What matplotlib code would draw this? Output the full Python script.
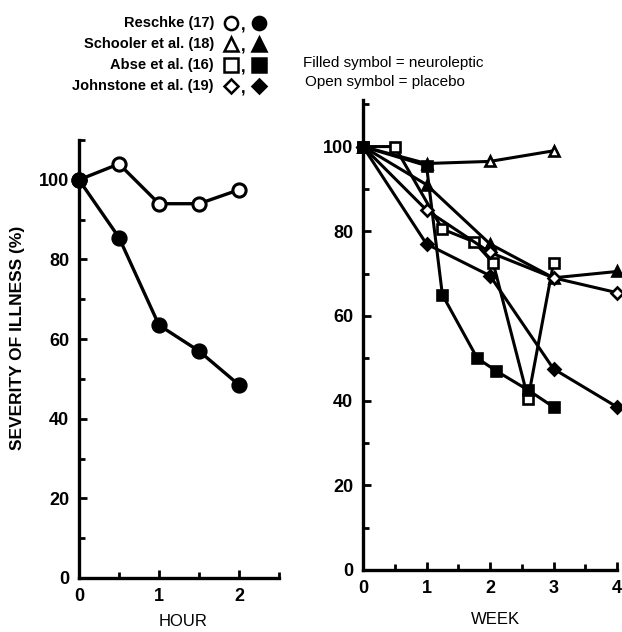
import matplotlib
matplotlib.use("Agg")
import matplotlib.pyplot as plt
from matplotlib.ticker import MultipleLocator

plt.rcParams['font.family'] = ['Liberation Sans', 'DejaVu Sans']

# ---- Data: left panel (hours) ----
reschke_hours = [0, 0.5, 1, 1.5, 2]
reschke_placebo = [100, 104, 94, 94, 97.5]
reschke_neuro = [100, 85.5, 63.5, 57, 48.5]

# ---- Data: right panel (weeks) ----
schooler_placebo_wk = [0, 1, 2, 3]
schooler_placebo = [100, 96, 96.5, 99]
schooler_neuro_wk = [0, 1, 2, 3, 4]
schooler_neuro = [100, 91, 77, 69, 70.5]
abse_placebo_wk = [0, 0.5, 1.25, 1.75, 2.05, 2.6, 3]
abse_placebo = [100, 100, 80.5, 77.5, 72.5, 40.5, 72.5]
abse_neuro_wk = [0, 1, 1.25, 1.8, 2.1, 2.6, 3]
abse_neuro = [100, 95.5, 65, 50, 47, 42.5, 38.5]
johnstone_placebo_wk = [0, 1, 2, 3, 4]
johnstone_placebo = [100, 85, 75, 69, 65.5]
johnstone_neuro_wk = [0, 1, 2, 3, 4]
johnstone_neuro = [100, 77, 69.5, 47.5, 38.5]

legend_labels = ["Reschke (17)", "Schooler et al. (18)", "Abse et al. (16)", "Johnstone et al. (19)"]
legend_markers = ["o", "^", "s", "D"]

W, H = 622, 632
fig = plt.figure(figsize=(W/100, H/100), dpi=100)

def style_axes(ax, xmax, ymax):
    for s in ['top', 'right']:
        ax.spines[s].set_visible(False)
    for s in ['left', 'bottom']:
        ax.spines[s].set_linewidth(2.4)
    ax.set_ylim(0, ymax)
    ax.set_xlim(0, xmax)
    ax.yaxis.set_major_locator(MultipleLocator(20))
    ax.yaxis.set_minor_locator(MultipleLocator(10))
    ax.xaxis.set_major_locator(MultipleLocator(1))
    ax.xaxis.set_minor_locator(MultipleLocator(0.5))
    ax.tick_params(which='both', direction='in', width=2, color='black')
    ax.tick_params(which='major', length=6, labelsize=13, pad=7)
    ax.tick_params(which='minor', length=4)
    for lab in ax.get_xticklabels() + ax.get_yticklabels():
        lab.set_fontweight('bold')

# Left panel
axL = fig.add_axes([79/W, 1-578/H, 200/W, 438/H])
style_axes(axL, 2.5, 110)
axL.plot(reschke_hours, reschke_placebo, '-o', color='black', lw=2.4,
         ms=9.5, mfc='white', mec='black', mew=2.2, clip_on=False, zorder=3)
axL.plot(reschke_hours, reschke_neuro, '-o', color='black', lw=2.4,
         ms=9.5, mfc='black', mec='black', mew=2.2, clip_on=False, zorder=3)

# Right panel
axR = fig.add_axes([363/W, 1-570/H, 254/W, 470/H])
style_axes(axR, 4, 111)
kw = dict(color='black', lw=2.2, ms=7, mec='black', mew=1.9, clip_on=False, zorder=3)
axR.plot(schooler_placebo_wk, schooler_placebo, '-^', mfc='white', **kw)
axR.plot(schooler_neuro_wk, schooler_neuro, '-^', mfc='black', **kw)
axR.plot(abse_placebo_wk, abse_placebo, '-s', mfc='white', **kw)
axR.plot(abse_neuro_wk, abse_neuro, '-s', mfc='black', **kw)
axR.plot(johnstone_placebo_wk, johnstone_placebo, '-D', mfc='white', **{**kw, 'ms': 6})
axR.plot(johnstone_neuro_wk, johnstone_neuro, '-D', mfc='black', **{**kw, 'ms': 6})

# Axis titles (placed near the bottom edge like the reference)
fig.text(183/W, 1-621/H, "HOUR", ha='center', va='center', fontsize=12)
fig.text(495/W, 1-619/H, "WEEK", ha='center', va='center', fontsize=12)
fig.text(18/W, 1-338/H, "SEVERITY OF ILLNESS (%)", rotation=90, ha='center', va='center',
         fontsize=12.5, fontweight='bold')

# Legend (overlay in pixel coordinates)
axO = fig.add_axes([0, 0, 1, 1], facecolor='none')
axO.set_xlim(0, W)
axO.set_ylim(H, 0)
axO.axis('off')
rows_y = [23, 44, 65, 86]
for lab, mk, yy in zip(legend_labels, legend_markers, rows_y):
    axO.text(214, yy, lab, ha='right', va='center', fontsize=10.5, fontweight='bold')
    ms = 9.5 if mk != 'D' else 7.5
    axO.plot([231], [yy], marker=mk, ms=ms, mfc='white', mec='black', mew=1.8, ls='none')
    axO.text(243, yy + 3, ",", ha='center', va='center', fontsize=12, fontweight='bold')
    axO.plot([259], [yy], marker=mk, ms=ms, mfc='black', mec='black', mew=1.8, ls='none')

axO.text(303, 63, "Filled symbol = neuroleptic", ha='left', va='center', fontsize=11)
axO.text(305, 82, "Open symbol = placebo", ha='left', va='center', fontsize=11)

fig.savefig("out.png", dpi=100, facecolor='white')
